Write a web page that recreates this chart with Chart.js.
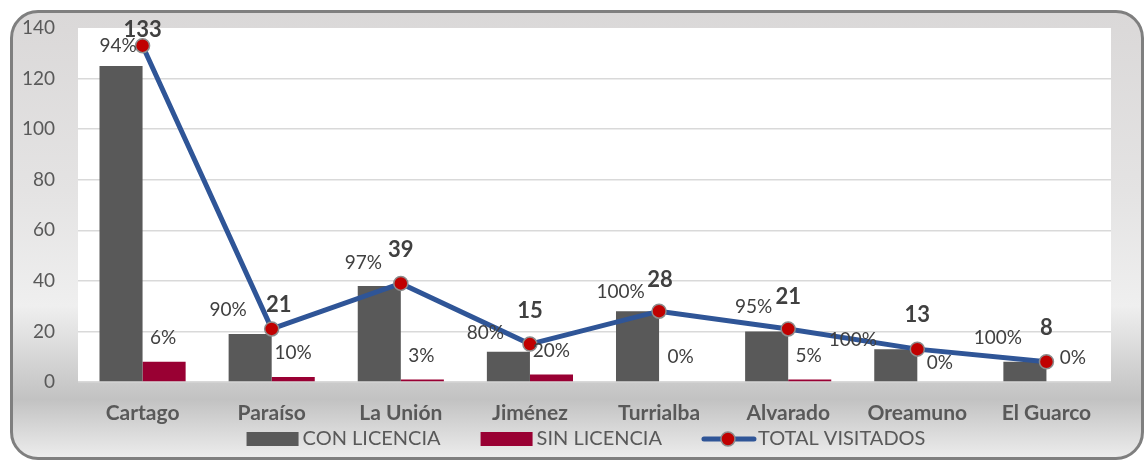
<!DOCTYPE html>
<html>
<head>
<meta charset="utf-8">
<script src="https://cdn.jsdelivr.net/npm/chart.js@4.4.0/dist/chart.umd.min.js"></script>
<style>
  body { margin: 0; background: #fff; }
  #wrap { position: relative; width: 1145px; height: 460px; overflow: hidden; }
  #frame {
    position: absolute; left: 10px; top: 10px; width: 1134px; height: 450px;
    box-sizing: border-box; border: 3px solid #7f7f7f; border-radius: 28px;
    background: linear-gradient(to bottom, #dad8d8 0%, #e4e3e3 40%, #efefef 66%, #c2c2c2 87%, #ececec 100%);
  }
  #chartVisitas { position: absolute; left: 0; top: 0; }
</style>
</head>
<body>
<div id="wrap">
  <div id="frame"></div>
  <canvas id="chartVisitas" width="1145" height="460"></canvas>
</div>
<script>
// cantones visitados
var cantones = ['Cartago', 'Paraíso', 'La Unión', 'Jiménez', 'Turrialba', 'Alvarado', 'Oreamuno', 'El Guarco'];
var conLicencia = [125, 19, 38, 12, 28, 20, 13, 8];
var sinLicencia = [8, 2, 1, 3, 0, 1, 0, 0];
var totalVisitados = [133, 21, 39, 15, 28, 21, 13, 8];
var yTicks = [0, 20, 40, 60, 80, 100, 120, 140];

// label nudges (dx, dy from the mark to the text centre)
var conNudge = [[-3, -20], [-22, -24], [-16, -23], [-23, -19], [-17, -19], [-13, -25], [-43, -9], [-27, -24]];
var sinNudge = [[-1, -24], [0, -24], [-1, -24], [0, -24], [0, -25], [-1, -24], [1, -19], [5, -24]];
var totalNudge = [[0, -16], [7, -24], [0, -33], [0, -33], [1, -31], [0, -32], [0, -34], [0, -34]];

var grisOscuro = '#595959';
var textoGris = '#404040';

// white plot area
var plotBg = {
  id: 'plotBg',
  beforeDraw: function(chart) {
    var a = chart.chartArea;
    chart.ctx.save();
    chart.ctx.fillStyle = '#ffffff';
    chart.ctx.fillRect(a.left, a.top, a.right - a.left, a.bottom - a.top);
    chart.ctx.restore();
  }
};

function pct(part, total) {
  return Math.round(part / total * 100) + '%';
}

// percent + total labels
var valueLabels = {
  id: 'valueLabels',
  afterDraw: function(chart) {
    var ctx = chart.ctx;
    ctx.save();
    ctx.textAlign = 'center';
    ctx.textBaseline = 'middle';
    var conMeta = chart.getDatasetMeta(1);
    var sinMeta = chart.getDatasetMeta(2);
    var lineMeta = chart.getDatasetMeta(0);
    ctx.fillStyle = textoGris;
    ctx.font = '19px Lato';
    for (var i = 0; i < cantones.length; i++) {
      var b = conMeta.data[i];
      ctx.fillText(pct(conLicencia[i], totalVisitados[i]), b.x + conNudge[i][0], b.y + conNudge[i][1]);
      var s = sinMeta.data[i];
      ctx.fillText(pct(sinLicencia[i], totalVisitados[i]), s.x + sinNudge[i][0], s.y + sinNudge[i][1]);
    }
    ctx.font = 'bold 22px Lato';
    for (var j = 0; j < cantones.length; j++) {
      var p = lineMeta.data[j];
      ctx.fillText(String(totalVisitados[j]), p.x + totalNudge[j][0], p.y + totalNudge[j][1]);
    }
    ctx.restore();
  }
};

// legend drawn under the axis labels
var legendaAbajo = {
  id: 'legendaAbajo',
  afterDraw: function(chart) {
    var ctx = chart.ctx;
    var ds = chart.data.datasets;
    var items = [ds[1], ds[2], ds[0]];
    var boxW = 52, gapText = 4, gapItem = 40, cy = 439;
    ctx.save();
    ctx.font = '20px Lato';
    ctx.textBaseline = 'middle';
    var total = 0;
    items.forEach(function(d, k) {
      total += boxW + gapText + ctx.measureText(d.label).width + (k < items.length - 1 ? gapItem : 0);
    });
    var x = 586 - total / 2;
    items.forEach(function(d) {
      if (d.type === 'line') {
        ctx.strokeStyle = d.borderColor;
        ctx.lineWidth = 5;
        ctx.lineCap = 'round';
        ctx.beginPath();
        ctx.moveTo(x + 2, cy);
        ctx.lineTo(x + boxW, cy);
        ctx.stroke();
        ctx.beginPath();
        ctx.arc(x + boxW / 2, cy, 7, 0, Math.PI * 2);
        ctx.fillStyle = d.pointBackgroundColor;
        ctx.fill();
        ctx.lineWidth = 1.5;
        ctx.strokeStyle = d.pointBorderColor;
        ctx.stroke();
      } else {
        ctx.fillStyle = d.backgroundColor;
        ctx.fillRect(x, cy - 7, boxW, 14);
      }
      x += boxW + gapText;
      ctx.fillStyle = grisOscuro;
      ctx.fillText(d.label, x, cy);
      x += ctx.measureText(d.label).width + gapItem;
    });
    ctx.restore();
  }
};

var chartVisitas = new Chart(document.getElementById('chartVisitas'), {
  data: {
    labels: cantones,
    datasets: [{
      type: 'line',
      label: 'TOTAL VISITADOS',
      data: totalVisitados,
      borderColor: '#2f5597',
      borderWidth: 5,
      pointBackgroundColor: '#c00000',
      pointBorderColor: '#8c8c8c',
      pointBorderWidth: 1.5,
      pointRadius: 7,
      tension: 0,
      order: 0
    }, {
      type: 'bar',
      label: 'CON LICENCIA',
      data: conLicencia,
      backgroundColor: grisOscuro,
      categoryPercentage: 0.667,
      barPercentage: 1,
      order: 1
    }, {
      type: 'bar',
      label: 'SIN LICENCIA',
      data: sinLicencia,
      backgroundColor: '#990033',
      categoryPercentage: 0.667,
      barPercentage: 1,
      order: 2
    }]
  },
  options: {
    responsive: false,
    animation: false,
    layout: { padding: { top: 28, right: 34, left: 0, bottom: 0 } },
    plugins: {
      legend: { display: false },
      tooltip: { enabled: false }
    },
    scales: {
      x: {
        grid: { display: false },
        border: { display: false },
        ticks: { color: grisOscuro, font: { family: 'Lato', size: 21, weight: 'bold' }, padding: 11 },
        afterFit: function(scale) { scale.height = 78; }
      },
      y: {
        min: yTicks[0],
        max: yTicks[yTicks.length - 1],
        afterBuildTicks: function(scale) {
          scale.ticks = yTicks.map(function(v) { return { value: v }; });
        },
        ticks: { color: grisOscuro, font: { family: 'Lato', size: 19 }, padding: 23 },
        grid: {
          drawTicks: false,
          lineWidth: 1.5,
          color: function(c) { return c.tick && c.tick.value === 140 ? 'rgba(0,0,0,0)' : '#d9d9d9'; }
        },
        border: { display: false },
        afterFit: function(scale) {
          scale.width = 78;
          // tick padding would otherwise push the plot top down
          scale.paddingTop = 0;
          scale.paddingBottom = 0;
        }
      }
    }
  },
  plugins: [plotBg, valueLabels, legendaAbajo]
});
</script>
</body>
</html>
